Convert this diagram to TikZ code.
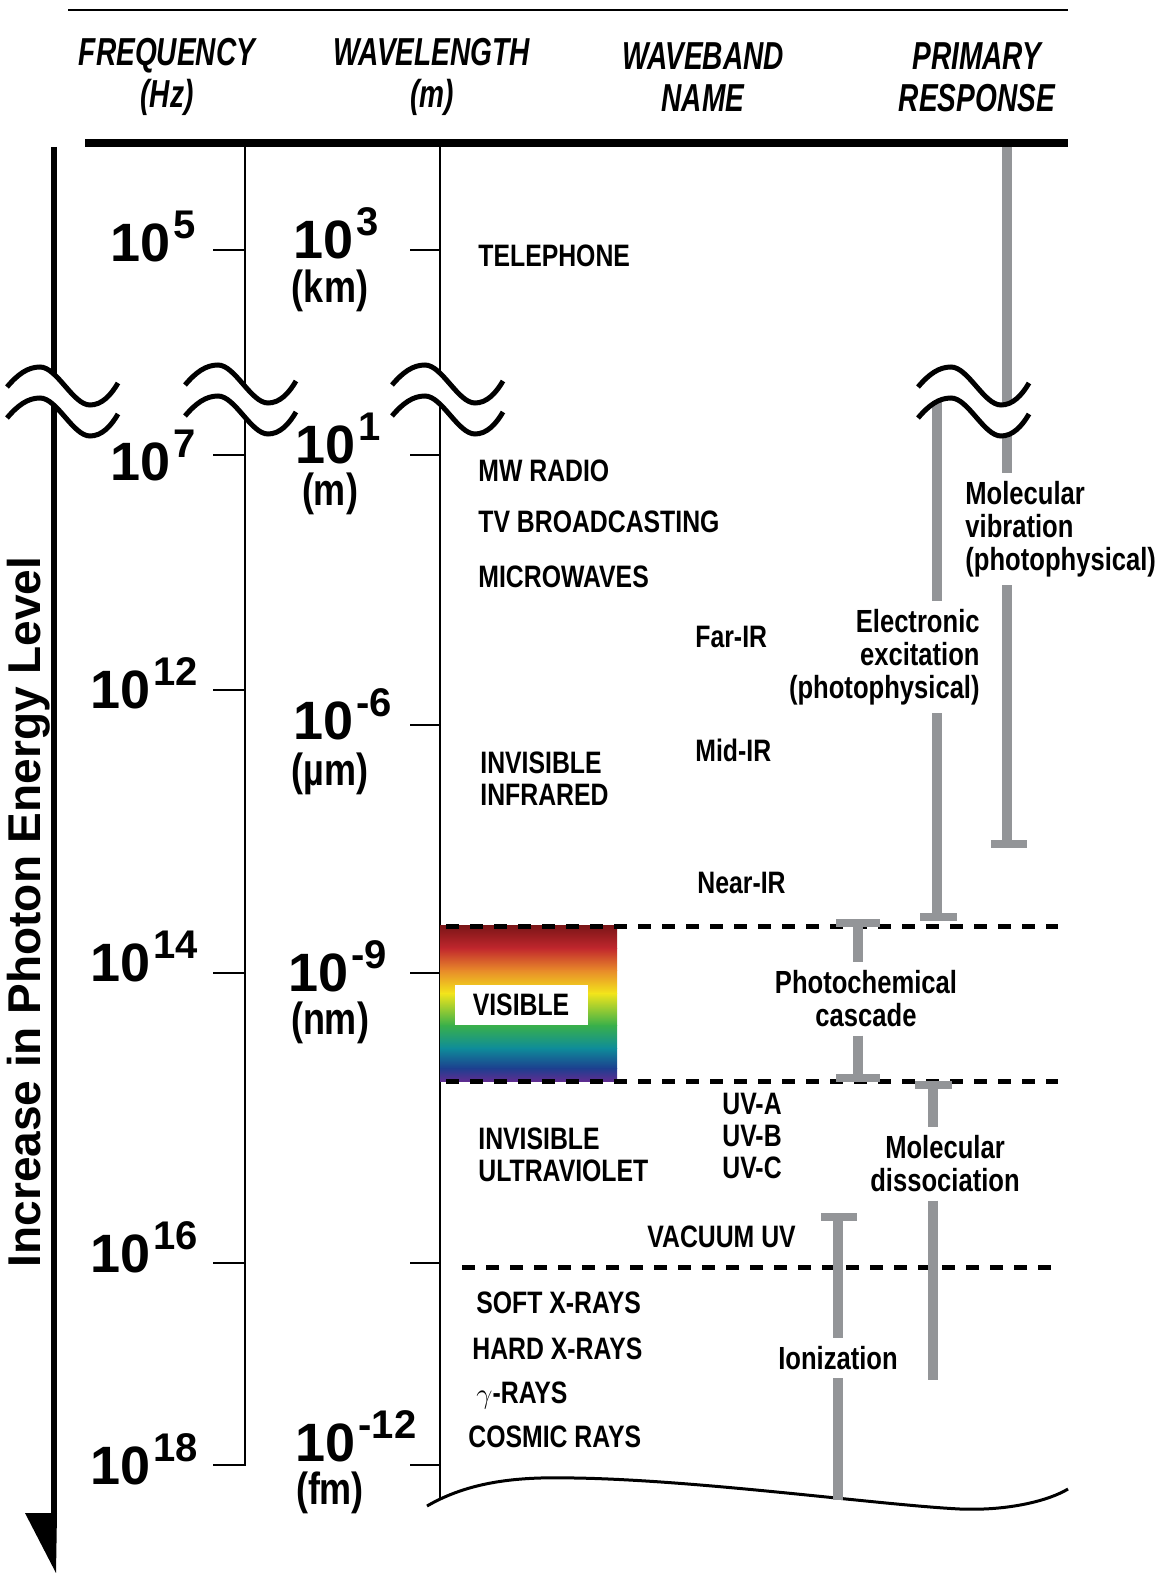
\documentclass[tikz,border=0pt]{standalone}
\usepackage{fontspec}
\setmainfont{Liberation Sans}
\newfontfamily\condfont{Liberation Sans}[FakeStretch=0.8]
\newfontfamily\headfont{Liberation Sans}[FakeStretch=0.72]
\definecolor{respgray}{HTML}{939598}
\definecolor{visA}{HTML}{7A1517}
\definecolor{visB}{HTML}{C1272D}
\definecolor{visC}{HTML}{E8892A}
\definecolor{visD}{HTML}{F3E51B}
\definecolor{visE}{HTML}{39B04A}
\definecolor{visF}{HTML}{0E8C9A}
\definecolor{visG}{HTML}{1D3F8F}
\definecolor{visH}{HTML}{5E2D91}
\newcommand{\tenpow}[1]{10\hspace{1.5pt}\raisebox{11.5pt}{\fontsize{20}{20}\selectfont #1}}
\newcommand{\waveBreak}[2]{%
  \begin{scope}[shift={(#1,#2)}]
    \fill[white] (-53,0) .. controls (-42,-13) and (-32,-20) .. (-20,-20)
      .. controls (-3,-20) and (13,18) .. (30,18)
      .. controls (42,18) and (51,8) .. (58,-4) -- (58,27)
      .. controls (51,39) and (42,49) .. (30,49)
      .. controls (13,49) and (-3,11) .. (-20,11)
      .. controls (-32,11) and (-42,18) .. (-53,31) -- cycle;
    \draw[breakwave] (-53,0) .. controls (-42,-13) and (-32,-20) .. (-20,-20)
      .. controls (-3,-20) and (13,18) .. (30,18)
      .. controls (42,18) and (51,8) .. (58,-4);
    \draw[breakwave] (-53,31) .. controls (-42,18) and (-32,11) .. (-20,11)
      .. controls (-3,11) and (13,49) .. (30,49)
      .. controls (42,49) and (51,39) .. (58,27);
  \end{scope}}
\tikzset{
  headlabel/.style={
    font=\headfont\bfseries\itshape\fontsize{19.5}{21}\selectfont,
    align=center,
    inner sep=0pt
  },
  bignum/.style={font=\bfseries\fontsize{27}{27}\selectfont, anchor=base west, inner sep=0pt},
  unitlabel/.style={font=\condfont\bfseries\fontsize{22.5}{22.5}\selectfont, inner sep=0pt},
  band/.style={
    font=\condfont\bfseries\fontsize{15.5}{16}\selectfont,
    anchor=base west,
    align=left,
    inner sep=0pt
  },
  resp/.style={
    font=\condfont\bfseries\fontsize{16}{16.5}\selectfont,
    inner sep=4pt
  },
  axisline/.style={line width=1.3pt},
  ticky/.style={line width=1.3pt},
  graybar/.style={draw=respgray, line width=5pt},
  barfoot/.style={draw=respgray, line width=4pt},
  bandsep/.style={line width=2.5pt, dash pattern=on 6.5pt off 5.5pt},
  breakwave/.style={line width=2.5pt}
}
\begin{document}
\begin{tikzpicture}[x=0.5pt,y=-0.5pt]
  \useasboundingbox (0,0) rectangle (1167,1573);

  % header
  \draw[line width=1.2pt] (68,10) -- (1068,10);
  \node[headlabel] (hfreq) at (167,77) {FREQUENCY\\(Hz)};
  \node[headlabel] (hwave) at (432,77) {WAVELENGTH\\(m)};
  \node[headlabel] (hband) at (703,77) {WAVEBAND\\NAME};
  \node[headlabel] (hresp) at (977,77) {PRIMARY\\RESPONSE};
  \draw[line width=4pt] (85,143) -- (1068,143);

  % energy arrow
  \coordinate (arrtop) at (54,147);
  \coordinate (arrbot) at (54,1516);
  \draw[line width=3pt] (arrtop) -- (arrbot);
  \fill (25,1513) -- (57,1513) -- (56,1573) -- cycle;
  \node[font=\bfseries\fontsize{23}{23}\selectfont, rotate=90, inner sep=0pt] (energy) at (29,912)
    {Increase in Photon Energy Level};

  % scales
  \draw[axisline] (245,143) -- (245,1466);
  \draw[axisline] (440,143) -- (440,1498);
  \draw[ticky] (213,250) -- (245,250);
  \draw[ticky] (213,455) -- (245,455);
  \draw[ticky] (213,690) -- (245,690);
  \draw[ticky] (213,973) -- (245,973);
  \draw[ticky] (213,1263) -- (245,1263);
  \draw[ticky] (213,1465) -- (245,1465);
  \draw[ticky] (410,250) -- (440,250);
  \draw[ticky] (410,455) -- (440,455);
  \draw[ticky] (410,725) -- (440,725);
  \draw[ticky] (410,973) -- (440,973);
  \draw[ticky] (410,1263) -- (440,1263);
  \draw[ticky] (410,1465) -- (440,1465);
  \draw[line width=1.5pt] (427,1506) .. controls (475,1478) and (530,1477) .. (575,1478)
    .. controls (700,1480) and (880,1505) .. (960,1509)
    .. controls (1010,1511) and (1050,1500) .. (1068,1489);

  % visible band
  \shade[top color=visA, bottom color=visB] (440,925) rectangle (617,948.5);
  \shade[top color=visB, bottom color=visC] (440,948) rectangle (617,970.5);
  \shade[top color=visC, bottom color=visD] (440,970) rectangle (617,993.5);
  \shade[top color=visD, bottom color=visE] (440,993) rectangle (617,1025.5);
  \shade[top color=visE, bottom color=visF] (440,1025) rectangle (617,1048.5);
  \shade[top color=visF, bottom color=visG] (440,1048) rectangle (617,1068.5);
  \shade[top color=visG, bottom color=visH] (440,1068) rectangle (617,1081);
  \node[fill=white, minimum width=66.5pt, minimum height=20pt, inner sep=0pt,
    font=\condfont\bfseries\fontsize{15.5}{16}\selectfont] (vis) at (521,1005) {VISIBLE};
  \draw[bandsep] (446,926) -- (1058,926);
  \draw[bandsep] (446,1081) -- (1058,1081);
  \draw[bandsep] (462,1267) -- (1058,1267);

  % primary response bars
  \node[resp, anchor=west, align=left] (vib) at (957,529) {Molecular\\vibration\\(photophysical)};
  \node[resp, anchor=east, align=right] (elec) at (988,657) {Electronic\\excitation\\(photophysical)};
  \node[resp, align=center] (photo) at (866,999) {Photochemical\\cascade};
  \node[resp, align=center] (dissoc) at (945,1164) {Molecular\\dissociation};
  \node[resp] (ion) at (838,1358) {Ionization};

  \coordinate (vibtop) at (1007,147);
  \coordinate (vibend) at (1007,844);
  \draw[graybar] (vibtop) -- (vibtop |- vib.north);
  \draw[graybar] (vibend |- vib.south) -- (vibend);
  \draw[barfoot] (991,844) -- (1027,844);
  \coordinate (electop) at (937,395);
  \coordinate (elecend) at (937,917);
  \draw[graybar] (electop) -- (electop |- elec.north);
  \draw[graybar] (elecend |- elec.south) -- (elecend);
  \draw[barfoot] (920,917) -- (957,917);
  \coordinate (phtop) at (858,923);
  \coordinate (phend) at (858,1078);
  \draw[barfoot] (836,923) -- (880,923);
  \draw[graybar] (phtop) -- (phtop |- photo.north);
  \draw[graybar] (phend |- photo.south) -- (phend);
  \draw[barfoot] (836,1078) -- (880,1078);
  \coordinate (distop) at (933,1085);
  \coordinate (disend) at (933,1380);
  \draw[barfoot] (915,1085) -- (952,1085);
  \draw[graybar] (distop) -- (distop |- dissoc.north);
  \draw[graybar] (disend |- dissoc.south) -- (disend);
  \coordinate (iontop) at (838,1217);
  \coordinate (ionend) at (838,1500);
  \draw[barfoot] (821,1217) -- (857,1217);
  \draw[graybar] (iontop) -- (iontop |- ion.north);
  \draw[graybar] (ionend |- ion.south) -- (ionend);

  % breaks in the scale
  \waveBreak{60}{387}
  \waveBreak{238}{385}
  \waveBreak{445}{385}
  \waveBreak{971}{387}

  % frequency
  \node[bignum] (f5) at (110,262) {\tenpow{5}};
  \node[bignum] (f7) at (110,480) {\tenpow{7}};
  \node[bignum] (f12) at (90,708) {\tenpow{12}};
  \node[bignum] (f14) at (90,981) {\tenpow{14}};
  \node[bignum] (f16) at (90,1272) {\tenpow{16}};
  \node[bignum] (f18) at (90,1484) {\tenpow{18}};

  % wavelength
  \node[bignum] (w3) at (293,258) {\tenpow{3}};
  \node[unitlabel] (ukm) at (330,291) {(km)};
  \node[bignum] (w1) at (295,463) {\tenpow{1}};
  \node[unitlabel] (um) at (330,494) {(m)};
  \node[bignum] (w6) at (293,739) {\tenpow{-6}};
  \node[unitlabel] (uum) at (330,774) {(µm)};
  \node[bignum] (w9) at (288,991) {\tenpow{-9}};
  \node[unitlabel] (unm) at (330,1023) {(nm)};
  \node[bignum] (w12) at (295,1461) {\tenpow{-12}};
  \node[unitlabel] (ufm) at (330,1493) {(fm)};

  % waveband names
  \node[band] (tel) at (478,266) {TELEPHONE};
  \node[band] (mwradio) at (478,481) {MW RADIO};
  \node[band] (tvb) at (478,532) {TV BROADCASTING};
  \node[band] (micro) at (478,587) {MICROWAVES};
  \node[band] (farir) at (695,647) {Far-IR};
  \node[band] (midir) at (695,761) {Mid-IR};
  \node[band, anchor=west] (infra) at (480,779) {INVISIBLE\\INFRARED};
  \node[band] (nearir) at (697,893) {Near-IR};
  \node[band, anchor=west] (uvabc) at (722,1136) {UV-A\\UV-B\\UV-C};
  \node[band, anchor=west] (ultra) at (478,1155) {INVISIBLE\\ULTRAVIOLET};
  \node[band] (vacuv) at (647,1247) {VACUUM UV};
  \node[band] (softx) at (476,1313) {SOFT X-RAYS};
  \node[band] (hardx) at (472,1359) {HARD X-RAYS};
  \node[band] (gamma) at (476,1403) {$\gamma$-RAYS};
  \node[band] (cosmic) at (468,1447) {COSMIC RAYS};
\end{tikzpicture}
\end{document}
